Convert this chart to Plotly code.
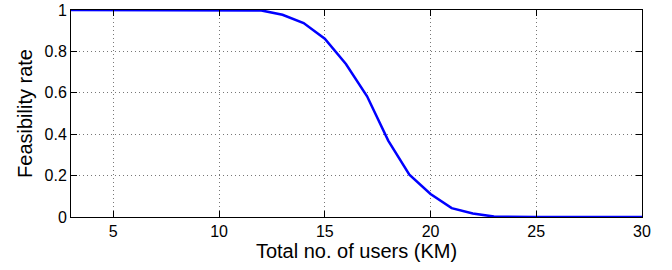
import plotly.graph_objects as go

users = [3, 4, 5, 6, 7, 8, 9, 10, 11, 12, 13, 14, 15, 16, 17, 18, 19, 20, 21, 22, 23, 24, 25, 26, 27, 28, 29, 30]
feasibility = [1.0, 1.0, 1.0, 1.0, 1.0, 1.0, 1.0, 1.0, 0.999, 0.998, 0.977, 0.937, 0.861, 0.739, 0.583, 0.369,
               0.204, 0.111, 0.043, 0.017, 0.002, 0.0, 0.0, 0.0, 0.0, 0.0, 0.0, 0.0]
x_ticks = [5, 10, 15, 20, 25, 30]
y_ticks = [0, 0.2, 0.4, 0.6, 0.8, 1]
y_tick_labels = ["0", "0.2", "0.4", "0.6", "0.8", "1"]

FONT = "Liberation Sans, Arial, sans-serif"

fig = go.Figure()
fig.add_trace(go.Scatter(x=users, y=feasibility, mode="lines",
                         line=dict(color="#0000ff", width=2.5), showlegend=False,
                         cliponaxis=False))

axis_common = dict(
    showline=True, linecolor="black", linewidth=1, mirror="ticks",
    ticks="inside", ticklen=6, tickcolor="black", tickwidth=1,
    showgrid=True, gridcolor="#777777", griddash="1px,3px", gridwidth=1,
    zeroline=False, automargin=False,
    tickfont=dict(family=FONT, size=16, color="black"),
)

fig.update_xaxes(range=[3, 30], tickvals=x_ticks, **axis_common,
                 title=dict(text="Total no. of users (KM)", standoff=2,
                            font=dict(family=FONT, size=20, color="black")))
fig.update_yaxes(range=[0, 1], tickvals=y_ticks, ticktext=y_tick_labels, **axis_common,
                 title=dict(text="Feasibility rate", standoff=6,
                            font=dict(family=FONT, size=20, color="black")))

fig.update_layout(width=672, height=270, margin=dict(l=71, r=30, t=10, b=53),
                  plot_bgcolor="white", paper_bgcolor="white")

# remove the browser's default 8px page margin so the figure sits at the window's corner
fig.write_html("out.html", config={"displayModeBar": False},
               post_script="document.body.style.margin='0';document.body.style.overflow='hidden';")
